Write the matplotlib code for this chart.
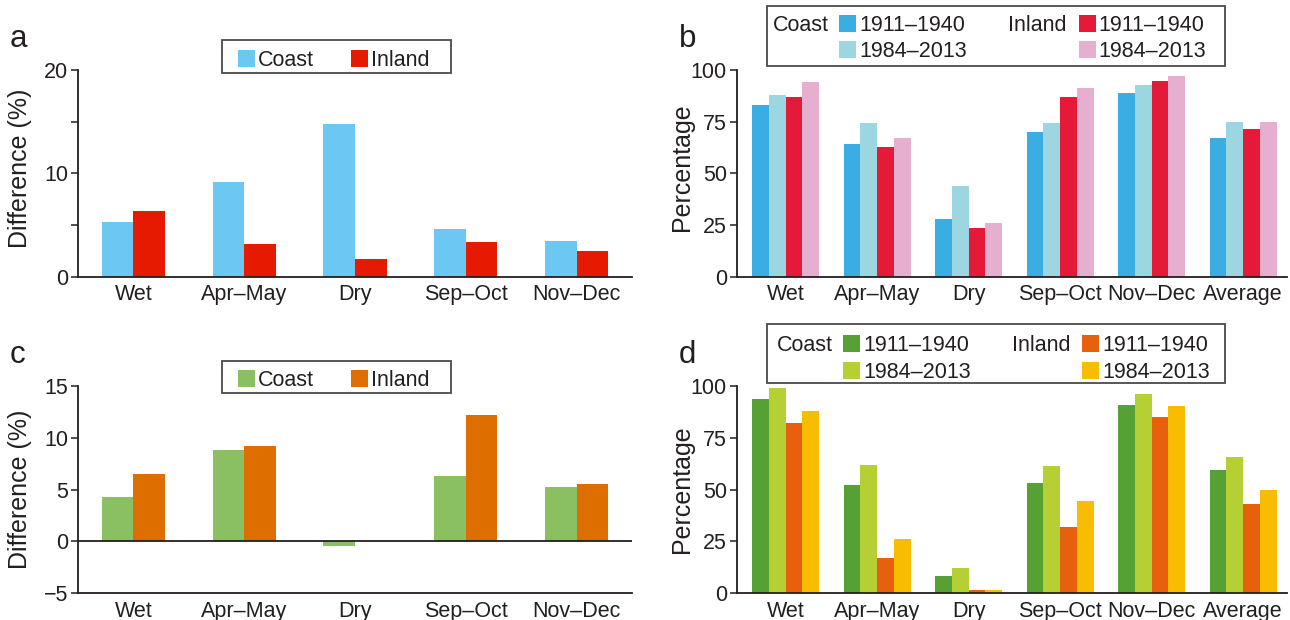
import numpy as np
import matplotlib
matplotlib.use("Agg")
import matplotlib.pyplot as plt
from matplotlib.patches import Rectangle

plt.rcParams['font.family'] = ['Liberation Sans', 'DejaVu Sans']

# -------------------------------
# DATA
# -------------------------------
seasons5 = ["Wet", "Apr–May", "Dry", "Sep–Oct", "Nov–Dec"]
seasons6 = ["Wet", "Apr–May", "Dry", "Sep–Oct", "Nov–Dec", "Average"]

# panel a: difference (%)
a_coast = [5.25, 9.2, 14.75, 4.65, 3.5]
a_inland = [6.4, 3.2, 1.75, 3.4, 2.45]

# panel b: percentage
b_coast_early = [83.1, 64.2, 27.9, 70.0, 88.9, 67.1]
b_coast_late = [87.9, 74.4, 43.9, 74.4, 92.7, 74.8]
b_inland_early = [86.9, 62.7, 23.5, 86.9, 94.7, 71.5]
b_inland_late = [94.2, 67.1, 26.0, 91.3, 97.1, 74.8]

# panel c: difference (%)
c_coast = [4.3, 8.85, -0.5, 6.35, 5.2]
c_inland = [6.5, 9.25, 0.0, 12.2, 5.55]

# panel d: percentage
d_coast_early = [93.7, 52.3, 8.4, 53.2, 90.8, 59.5]
d_coast_late = [99.0, 61.9, 12.2, 61.4, 96.1, 65.8]
d_inland_early = [82.2, 17.0, 1.6, 32.0, 85.0, 43.1]
d_inland_late = [87.9, 26.2, 1.6, 44.5, 90.4, 49.8]

W, H = 1290, 620
TXT = '#231f20'
fig = plt.figure(figsize=(W / 100, H / 100), dpi=100)


def px_axes(l, t, r, b):
    return fig.add_axes([l / W, 1 - b / H, (r - l) / W, (b - t) / H])


def style(ax, labels, ylabel, lab_xy):
    for s in ["top", "right"]:
        ax.spines[s].set_visible(False)
    for s in ["left", "bottom"]:
        ax.spines[s].set_linewidth(1.3)
        ax.spines[s].set_color(TXT)
    ax.set_xticks(range(len(labels)))
    ax.set_xticklabels(labels, fontsize=15.5, color=TXT)
    ax.tick_params(axis='x', length=0, pad=5.5)
    ax.tick_params(axis='y', length=5, width=1.1, color=TXT, labelsize=15.5,
                   labelcolor=TXT, pad=2)
    ax.set_ylabel(ylabel, fontsize=18, color=TXT)
    ax.yaxis.set_label_coords(*lab_xy)


def frame(x0, y0, x1, y1):
    fig.patches.append(Rectangle((x0 / W, 1 - y1 / H), (x1 - x0) / W, (y1 - y0) / H,
                                 transform=fig.transFigure, fill=False,
                                 ec='#4a4a4a', lw=1.3))


def key(x, yc, color, label):
    fig.patches.append(Rectangle((x / W, 1 - (yc + 8.5) / H), 17 / W, 17 / H,
                                 transform=fig.transFigure, fc=color, ec='none'))
    fig.text((x + 20) / W, 1 - (yc + 7.7) / H, label, fontsize=15.5,
             color=TXT, va='baseline', ha='left')


def word(x, yc, label):
    fig.text(x / W, 1 - (yc + 7.7) / H, label, fontsize=15.5,
             color=TXT, va='baseline', ha='left')


# -------------------------------
# PANEL a
# -------------------------------
ax = px_axes(78, 70, 632, 276.7)
x = np.arange(len(seasons5))
w = 0.286
ax.bar(x - w / 2, a_coast, w, color='#6cc8f2')
ax.bar(x + w / 2, a_inland, w, color='#e61a00')
ax.set_xlim(-0.5, 4.5)
ax.set_ylim(0, 20)
ax.set_yticks([0, 5, 10, 15, 20])
ax.set_yticklabels(["0", "", "10", "", "20"])
style(ax, seasons5, "Difference (%)", (-0.083, 0.526))
frame(221.5, 40, 450.5, 73)
key(238, 58.5, '#6cc8f2', "Coast")
key(351, 58.5, '#e61a00', "Inland")

# -------------------------------
# PANEL b
# -------------------------------
ax = px_axes(736.7, 70, 1287, 276.7)
x = np.arange(len(seasons6))
w = 0.183
b_cols = ['#3aade3', '#9bd6e1', '#e51a38', '#e6afcf']
for k, (vals, c) in enumerate(zip([b_coast_early, b_coast_late, b_inland_early, b_inland_late], b_cols)):
    ax.bar(x + (k - 1.5) * w, vals, w, color=c)
ax.set_xlim(-0.535, 5.48)
ax.set_ylim(0, 100)
ax.set_yticks([0, 25, 50, 75, 100])
style(ax, seasons6, "Percentage", (-0.078, 0.532))
frame(766.6, 6, 1225, 66)
word(772.8, 23.5, "Coast")
key(839, 23.5, b_cols[0], "1911–1940")
key(839, 49.5, b_cols[1], "1984–2013")
word(1008.5, 23.5, "Inland")
key(1078.6, 23.5, b_cols[2], "1911–1940")
key(1078.6, 49.5, b_cols[3], "1984–2013")

# -------------------------------
# PANEL c
# -------------------------------
ax = px_axes(78, 386, 632, 593)
x = np.arange(len(seasons5))
w = 0.286
ax.bar(x - w / 2, c_coast, w, color='#8ac062')
ax.bar(x + w / 2, c_inland, w, color='#de6e00')
ax.axhline(0, color=TXT, lw=1.3)
ax.set_xlim(-0.5, 4.5)
ax.set_ylim(-5, 15)
ax.set_yticks([-5, 0, 5, 10, 15])
style(ax, seasons5, "Difference (%)", (-0.083, 0.502))
frame(221.5, 360.7, 450.5, 393)
key(238, 378.5, '#8ac062', "Coast")
key(351, 378.5, '#de6e00', "Inland")

# -------------------------------
# PANEL d
# -------------------------------
ax = px_axes(736.7, 386, 1287, 593)
x = np.arange(len(seasons6))
w = 0.183
d_cols = ['#55a133', '#b5cf34', '#e6600e', '#f8bd00']
for k, (vals, c) in enumerate(zip([d_coast_early, d_coast_late, d_inland_early, d_inland_late], d_cols)):
    ax.bar(x + (k - 1.5) * w, vals, w, color=c)
ax.set_xlim(-0.535, 5.48)
ax.set_ylim(0, 100)
ax.set_yticks([0, 25, 50, 75, 100])
style(ax, seasons6, "Percentage", (-0.078, 0.50))
frame(766.6, 324, 1225, 383.3)
word(777, 343.5, "Coast")
key(843, 343.5, d_cols[0], "1911–1940")
key(843, 370.5, d_cols[1], "1984–2013")
word(1012, 343.5, "Inland")
key(1082, 343.5, d_cols[2], "1911–1940")
key(1082, 370.5, d_cols[3], "1984–2013")

# panel letters
for lx, ly, lt in [(10, 47, "a"), (679, 47, "b"), (10, 363, "c"), (679, 363, "d")]:
    fig.text(lx / W, 1 - ly / H, lt, fontsize=22.5, color=TXT, va='baseline', ha='left')

fig.savefig("out.png", dpi=100)
plt.close(fig)
